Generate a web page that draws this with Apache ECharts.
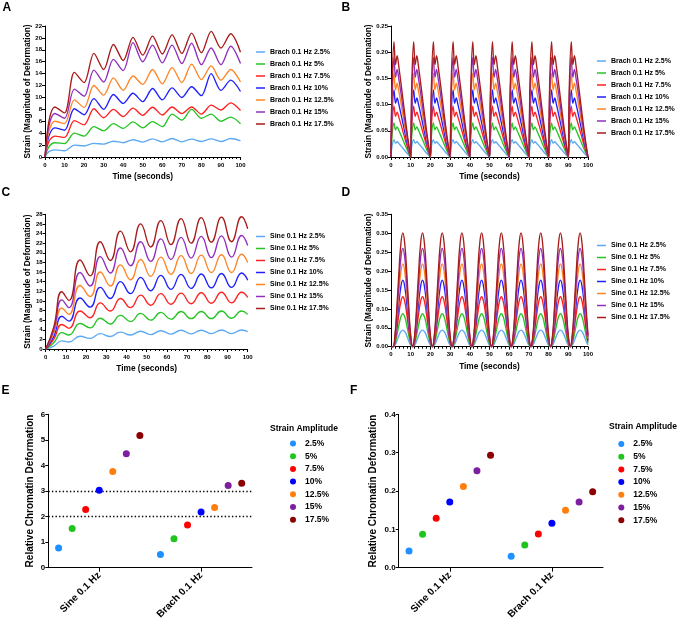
<!DOCTYPE html>
<html>
<head>
<meta charset="utf-8">
<script src="https://cdn.jsdelivr.net/npm/echarts@6/dist/echarts.min.js"></script>
<style>
html, body { margin: 0; padding: 0; background: #fff; }
#chart { width: 680px; height: 625px; }
</style>
</head>
<body>
<div id="chart"></div>
<script>
const amplitudes = ['2.5%', '5%', '7.5%', '10%', '12.5%', '15%', '17.5%']
const brachNames = amplitudes.map(a => 'Brach 0.1 Hz ' + a)
const sineNames = amplitudes.map(a => 'Sine 0.1 Hz ' + a)
const groups = ['Sine 0.1 Hz', 'Brach 0.1 Hz']

const lineColors = ['#5eaaf2', '#26c426', '#ff2020', '#2020ff', '#ff8426', '#9130bf', '#a81c1c']
const dotColors = ['#1e90ff', '#1fc41f', '#ff0000', '#0000ff', '#ff7f0e', '#7d1f9e', '#8b0000']

// A: brach, cumulative strain (cusps every 10 s, humps between)
const brachCumTimes = [0, 2, 5, 10, 15, 20, 25, 30, 35, 40, 45, 50, 55, 60, 65, 70, 75, 80, 85, 90, 95, 100]
const brachCumulative = [
  [0, 0.9, 1.2, 1.05, 2.0, 1.85, 2.3, 2.15, 2.65, 2.4, 2.9, 2.5, 3.05, 2.55, 3.1, 2.55, 3.0, 2.6, 3.05, 2.6, 3.1, 2.7],
  [0, 1.7, 2.4, 2.25, 4.0, 3.5, 5.1, 4.4, 5.6, 4.8, 5.9, 4.9, 5.95, 5.1, 7.2, 6.2, 8.0, 6.5, 7.2, 6.0, 6.7, 5.6],
  [0, 2.6, 3.5, 3.3, 6.1, 5.4, 8.1, 6.6, 8.0, 6.8, 8.2, 7.0, 8.35, 7.05, 8.4, 7.3, 8.4, 7.2, 8.7, 7.9, 9.1, 7.8],
  [0, 3.5, 4.9, 4.5, 8.1, 7.1, 9.8, 8.0, 10.5, 9.0, 10.7, 9.3, 11.5, 9.6, 11.6, 10.0, 11.8, 10.3, 14.0, 11.2, 12.9, 11.0],
  [0, 4.3, 6.0, 5.6, 9.6, 8.3, 12.0, 10.4, 13.3, 11.2, 13.6, 12.2, 14.7, 12.3, 15.0, 12.5, 15.6, 13.0, 15.3, 12.9, 14.7, 12.6],
  [0, 5.2, 7.3, 6.5, 11.4, 10.2, 14.6, 12.6, 16.4, 14.5, 19.2, 16.0, 18.8, 15.8, 18.8, 15.7, 19.1, 15.5, 18.3, 15.5, 18.6, 15.7],
  [0, 6.0, 8.4, 7.4, 14.2, 12.5, 17.4, 14.7, 18.9, 16.2, 20.1, 17.1, 20.3, 17.3, 20.5, 17.4, 20.8, 17.5, 21.1, 18.3, 20.7, 17.6]
]

// B: brach, strain within each 10 s cycle (one cycle read, peaks per amplitude)
const brachCycleTimes = [0, 0.5, 1.5, 2.3, 3.1, 4.0, 5.5, 7.0, 8.5, 9.6]
const brachCycleShape = [0, 0.6, 1, 0.8, 0.88, 0.78, 0.58, 0.37, 0.17, 0.04]
const brachPeaks = [0.033, 0.065, 0.097, 0.128, 0.16, 0.19, 0.22]

// C: sine, cumulative strain
const sineCumTimes = [0, 4, 8, 11.5, 17, 22, 27, 32, 37, 42, 47, 52, 57, 62, 67, 72, 77, 82, 87, 92, 97, 100]
const sineCumulative = [
  [0, 0.6, 1.7, 1.45, 2.65, 2.2, 3.2, 2.6, 3.5, 2.9, 3.7, 3.0, 3.8, 3.1, 3.9, 3.15, 3.9, 3.2, 3.95, 3.2, 3.95, 3.6],
  [0, 1.3, 3.4, 2.9, 5.3, 4.4, 6.4, 5.2, 7.0, 5.7, 7.4, 6.0, 7.6, 6.2, 7.8, 6.3, 7.8, 6.3, 7.9, 6.4, 7.9, 7.2],
  [0, 2.0, 5.1, 4.3, 7.9, 6.5, 9.6, 7.9, 10.5, 8.6, 11.2, 9.1, 11.5, 9.3, 11.6, 9.4, 11.7, 9.5, 11.8, 9.6, 11.8, 10.7],
  [0, 2.6, 6.8, 5.8, 10.6, 8.7, 12.8, 10.5, 14.0, 11.5, 14.9, 12.1, 15.3, 12.4, 15.5, 12.6, 15.6, 12.7, 15.7, 12.8, 15.8, 14.3],
  [0, 3.3, 8.5, 7.2, 13.2, 10.9, 16.0, 13.1, 17.5, 14.4, 18.6, 15.1, 19.1, 15.5, 19.4, 15.7, 19.5, 15.9, 19.6, 15.9, 19.7, 18.0],
  [0, 3.9, 10.2, 8.6, 15.9, 13.1, 19.2, 15.8, 21.0, 17.3, 22.3, 18.2, 22.9, 18.6, 23.2, 18.9, 23.4, 19.0, 23.5, 19.1, 23.6, 21.5],
  [0, 4.6, 11.9, 10.1, 18.5, 15.2, 22.3, 18.4, 24.5, 20.2, 26.0, 21.2, 26.7, 21.7, 27.1, 22.0, 27.3, 22.2, 27.4, 22.3, 27.5, 25.0]
]

// D: sine, strain within each cycle (cycles start 1 s in)
const sineCycleTimes = [1, 2, 3, 4, 5, 6, 7, 8, 9, 10]
const sineCycleShape = [0, 0.1, 0.35, 0.65, 0.9, 1, 0.9, 0.65, 0.35, 0.1]
const sinePeaks = [0.044, 0.087, 0.132, 0.176, 0.219, 0.26, 0.301]

// E and F: relative chromatin deformation
const sineDeformation = [0.77, 1.53, 2.28, 3.03, 3.76, 4.46, 5.17]
const brachDeformation = [0.52, 1.13, 1.67, 2.18, 2.35, 3.22, 3.30]
const thresholds = [2, 3]
const sineRate = [0.0435, 0.087, 0.129, 0.171, 0.212, 0.253, 0.293]
const brachRate = [0.0296, 0.059, 0.088, 0.116, 0.150, 0.171, 0.198]

const font = 'Liberation Sans, Arial, sans-serif'
const black = '#000'
const bold = (size, extra) => Object.assign({ fontFamily: font, fontWeight: 'bold', fontSize: size, color: black }, extra)

const grids = [
  { left: 45, top: 26, width: 195.5, height: 131 },
  { left: 391, top: 26, width: 197, height: 131 },
  { left: 45.7, top: 214.3, width: 202, height: 134.7 },
  { left: 391, top: 214.3, width: 197, height: 132.4 },
  { left: 48.3, top: 414.3, width: 203.7, height: 153.4 },
  { left: 398.7, top: 414.3, width: 204.3, height: 153.4 }
].map(g => Object.assign({ outerBoundsMode: 'none', containLabel: false }, g))

const timeAxis = (grid) => ({
  type: 'value', gridIndex: grid, min: 0, max: 100, interval: 10,
  name: 'Time (seconds)', nameLocation: 'middle', nameGap: 16,
  nameTextStyle: bold(8.3),
  axisLine: { show: true, onZero: false, lineStyle: { color: black, width: 1 } },
  axisTick: { show: true, length: 3, lineStyle: { color: black } },
  minorTick: { show: true, splitNumber: 5, length: 2, lineStyle: { color: black } },
  axisLabel: bold(6, { margin: 5 }),
  splitLine: { show: false }
})

const valueAxis = (grid, max, step, digits, name, nameGap, nameSize, labelSize) => ({
  type: 'value', gridIndex: grid, min: 0, max: max, interval: step,
  name: name, nameLocation: 'middle', nameGap: nameGap,
  nameTextStyle: bold(nameSize),
  axisLine: { show: true, onZero: false, lineStyle: { color: black, width: 1 } },
  axisTick: { show: true, length: 3, lineStyle: { color: black } },
  axisLabel: bold(labelSize, { margin: 3, formatter: v => v.toFixed(digits) }),
  splitLine: { show: false }
})

const groupAxis = (grid) => ({
  type: 'category', gridIndex: grid, data: groups, boundaryGap: true,
  axisLine: { show: true, onZero: false, lineStyle: { color: black, width: 1 } },
  axisTick: { show: true, alignWithLabel: true, length: 4, lineStyle: { color: black } },
  axisLabel: bold(10, { rotate: 45, margin: 6, interval: 0 }),
  splitLine: { show: false }
})

const dodgeAxis = (grid) => ({ type: 'value', gridIndex: grid, min: 0.5, max: 2.5, show: false })

const lineStyleFor = (i) => ({ width: 1.35, color: lineColors[i] })

const cumulativeSeries = (times, rows, names, axis, smooth) => rows.map((row, i) => ({
  name: names[i], type: 'line', xAxisIndex: axis, yAxisIndex: axis,
  data: row.map((v, j) => [times[j], v]),
  showSymbol: false, symbol: 'none', smooth: smooth,
  itemStyle: { color: lineColors[i] }, lineStyle: lineStyleFor(i), z: 2 + i
}))

const cycleSeries = (cycleTimes, shape, peaks, names, axis, smooth) => peaks.map((p, i) => {
  const data = [[0, 0]]
  for (let k = 0; k < 10; k++) {
    cycleTimes.forEach((t, j) => {
      const x = 10 * k + t
      if (x > 0 && x <= 100) data.push([x, p * shape[j]])
    })
  }
  if (data[data.length - 1][0] < 100) data.push([100, 0])
  return {
    name: names[i], type: 'line', xAxisIndex: axis, yAxisIndex: axis,
    data: data, showSymbol: false, symbol: 'none', smooth: smooth,
    itemStyle: { color: lineColors[i] }, lineStyle: lineStyleFor(i), z: 2 + i
  }
})

const dotSeries = (values, grid, axis, withLines) => {
  const out = []
  values.forEach((vals, g) => {
    vals.forEach((v, i) => {
      out.push({
        name: amplitudes[i], type: 'scatter', xAxisIndex: axis, yAxisIndex: grid,
        data: [[g + 1 + (i - 3) * 0.133, v]],
        symbolSize: 7, itemStyle: { color: dotColors[i], opacity: 1 }, z: 5
      })
    })
  })
  if (withLines) {
    out[0].markLine = {
      silent: true, symbol: 'none', label: { show: false },
      lineStyle: { color: black, width: 1.3, type: [1.4, 2.2] },
      data: withLines.map(v => ({ yAxis: v }))
    }
  }
  return out
}

const lineLegend = (names, left, top) => ({
  data: names, orient: 'vertical', left: left, top: top,
  icon: 'rect', itemWidth: 9, itemHeight: 1.5, itemGap: 3, padding: 0,
  selectedMode: false,
  textStyle: bold(7, { lineHeight: 9 })
})

const dotLegend = (left, top) => ({
  data: amplitudes, orient: 'vertical', left: left, top: top,
  icon: 'circle', itemWidth: 10, itemHeight: 6, itemGap: 2.7, padding: 0,
  selectedMode: false,
  textStyle: bold(8.5, { lineHeight: 10, padding: [0, 0, 0, 2] })
})

const letter = (text, left, top) => ({ text: text, left: left, top: top, padding: 0, textStyle: bold(12) })

const option = {
  animation: false,
  textStyle: { fontFamily: font },
  title: [
    letter('A', 2.5, 1.5), letter('B', 341.5, 2), letter('C', 1.5, 186.5), letter('D', 341.5, 186.5),
    letter('E', 1.5, 385), letter('F', 350, 385),
    { text: 'Strain Amplitude', left: 270, top: 424, padding: 0, textStyle: bold(8.5) },
    { text: 'Strain Amplitude', left: 609, top: 422.5, padding: 0, textStyle: bold(8.5) }
  ],
  grid: grids,
  xAxis: [timeAxis(0), timeAxis(1), timeAxis(2), timeAxis(3), groupAxis(4), groupAxis(5), dodgeAxis(4), dodgeAxis(5)],
  yAxis: [
    valueAxis(0, 22, 2, 0, 'Strain (Magnitude of Deformation)', 10, 8.3, 6),
    valueAxis(1, 0.25, 0.05, 2, 'Strain (Magnitude of Deformation)', 12, 8.3, 6),
    valueAxis(2, 28, 2, 0, 'Strain (Magnitude of Deformation)', 10, 8.3, 6),
    valueAxis(3, 0.35, 0.05, 2, 'Strain (Magnitude of Deformation)', 12, 8.3, 6),
    valueAxis(4, 6, 1, 0, 'Relative Chromatin Deformation', 13, 10, 8),
    valueAxis(5, 0.4, 0.1, 1, 'Relative Chromatin Deformation', 20, 10, 8)
  ],
  legend: [
    lineLegend(brachNames, 256, 47.5),
    lineLegend(brachNames, 597, 56.5),
    lineLegend(sineNames, 256, 232),
    lineLegend(sineNames, 597, 241),
    dotLegend(290, 438.5),
    dotLegend(618.3, 439)
  ],
  series: [].concat(
    cumulativeSeries(brachCumTimes, brachCumulative, brachNames, 0, 0.3),
    cycleSeries(brachCycleTimes, brachCycleShape, brachPeaks, brachNames, 1, 0.35),
    cumulativeSeries(sineCumTimes, sineCumulative, sineNames, 2, 0.5),
    cycleSeries(sineCycleTimes, sineCycleShape, sinePeaks, sineNames, 3, 0.5),
    dotSeries([sineDeformation, brachDeformation], 4, 6, thresholds),
    dotSeries([sineRate, brachRate], 5, 7, null)
  )
}

const chart = echarts.init(document.getElementById('chart'), null, { renderer: 'canvas' })
chart.setOption(option)
</script>
</body>
</html>
